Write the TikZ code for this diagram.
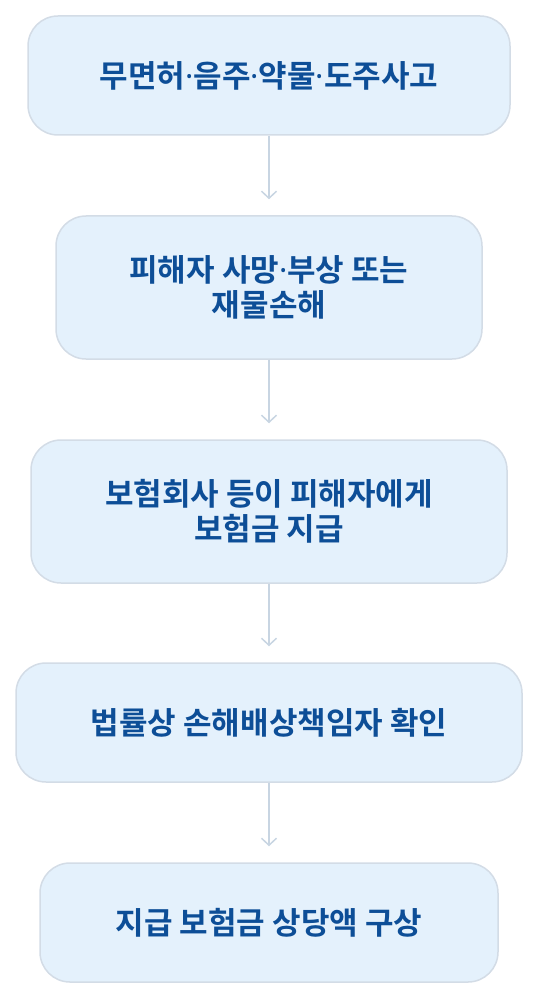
\documentclass[tikz,border=0pt]{standalone}
\usepackage{fontspec}
\setmainfont{Noto Sans CJK KR}[BoldFont={Noto Sans CJK KR Bold}]
\newfontfamily\dotfont{Noto Sans}
\newcommand{\mdot}{{\dotfont\bfseries ·}}
\usetikzlibrary{arrows.meta}
\definecolor{boxfill}{HTML}{E4F1FC}
\definecolor{boxline}{HTML}{D3DCE6}
\definecolor{boxtext}{HTML}{0D4E97}
\definecolor{arrline}{HTML}{C8D5E2}
\tikzset{
  stepbox/.style={draw=boxline, fill=boxfill, line width=1.5pt, rounded corners=30pt,
    text=boxtext, font=\fontsize{31}{35}\selectfont\bfseries, align=center,
    inner sep=0pt},
  flowarrow/.style={draw=arrline, line width=1.5pt, -{Straight Barb[length=7pt,width=15pt]}}
}
\begin{document}
\begin{tikzpicture}[x=1pt,y=-1pt]
\useasboundingbox (0,0) rectangle (539,1000);
\node[stepbox, minimum width=482pt, minimum height=119pt] (accident) at (269,75.5) {무면허\mdot 음주\mdot 약물\mdot 도주사고};
\node[stepbox, minimum width=426pt, minimum height=143pt] (damage) at (269,287.5) {피해자 사망\mdot 부상 또는\\재물손해};
\node[stepbox, minimum width=476pt, minimum height=143pt] (payment) at (269,511.5) {보험회사 등이 피해자에게\\보험금 지급};
\node[stepbox, minimum width=506pt, minimum height=119pt] (liable) at (269,722.5) {법률상 손해배상책임자 확인};
\node[stepbox, minimum width=458pt, minimum height=119pt] (claim) at (269,922.5) {지급 보험금 상당액 구상};
\coordinate (damagein) at ([yshift=16pt]damage.north);
\coordinate (paymentin) at ([yshift=16pt]payment.north);
\coordinate (liablein) at ([yshift=16pt]liable.north);
\coordinate (claimin) at ([yshift=16pt]claim.north);
\draw[flowarrow] (accident.south) -- (damagein);
\draw[flowarrow] (damage.south) -- (paymentin);
\draw[flowarrow] (payment.south) -- (liablein);
\draw[flowarrow] (liable.south) -- (claimin);
\end{tikzpicture}
\end{document}
